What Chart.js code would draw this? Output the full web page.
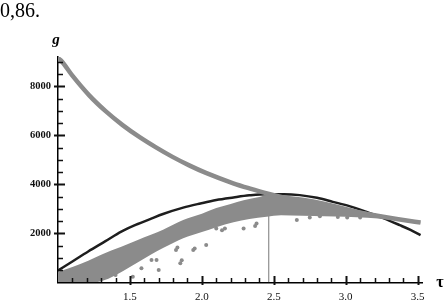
<!DOCTYPE html>
<html>
<head>
<meta charset="utf-8">
<script src="https://cdn.jsdelivr.net/npm/chart.js@4.4.1/dist/chart.umd.min.js"></script>
<style>
html,body{margin:0;padding:0;background:#fff;}
#wrap{position:relative;width:445px;height:300px;}
</style>
</head>
<body>
<div id="wrap"><canvas id="c" width="445" height="300"></canvas></div>
<script>
// ---- data ----
const xTicks = [1.5, 2.0, 2.5, 3.0, 3.5];
const yTicks = [2000, 4000, 6000, 8000];
const xMinorStep = 0.1;
const yMinorStep = 500;

// decreasing grey curve
const decTau = [1.00, 1.02, 1.10, 1.217, 1.333, 1.449, 1.565, 1.681, 1.796, 1.912, 2.028, 2.218, 2.33, 2.46, 2.68, 2.935, 3.10, 3.26, 3.40, 3.52];
const decG   = [9150, 9060, 8436, 7633, 6977, 6418, 5936, 5509, 5122, 4775, 4467, 4044, 3837, 3620, 3310, 3012, 2839, 2675, 2547, 2440];

// black fitted curve
const fitTau = [1.00, 1.10, 1.21, 1.33, 1.44, 1.55, 1.64, 1.73, 1.87, 1.99, 2.10, 2.22, 2.33, 2.45, 2.57, 2.68, 2.80, 2.91, 3.03, 3.14, 3.26, 3.375, 3.45, 3.52];
const fitG   = [480, 850, 1260, 1680, 2070, 2370, 2580, 2790, 3050, 3220, 3360, 3465, 3550, 3600, 3600, 3560, 3450, 3285, 3100, 2880, 2620, 2335, 2140, 1930];

// scatter cloud: upper and lower edges
const cloudUpTau = [1.00, 1.10, 1.21, 1.30, 1.44, 1.55, 1.65, 1.73, 1.87, 2.00, 2.10, 2.20, 2.29, 2.40, 2.47, 2.55, 2.70, 2.85, 3.00, 3.15, 3.30, 3.45, 3.52];
const cloudUpG   = [430, 620, 880, 1130, 1450, 1720, 1950, 2150, 2540, 2800, 3030, 3200, 3350, 3480, 3570, 3540, 3460, 3300, 3080, 2870, 2700, 2560, 2480];
const cloudLoTau = [1.00, 1.25, 1.35, 1.45, 1.55, 1.65, 1.73, 1.87, 2.00, 2.10, 2.22, 2.33, 2.45, 2.55, 2.70, 2.85, 3.00, 3.15, 3.30, 3.45, 3.52];
const cloudLoG   = [0, 0, 150, 450, 800, 1150, 1400, 1800, 2050, 2250, 2450, 2580, 2680, 2740, 2720, 2700, 2680, 2640, 2560, 2450, 2400];

// isolated points below the cloud
const outTau = [1.40, 1.48, 1.52, 1.58, 1.65, 1.685, 1.70, 1.82, 1.83, 1.85, 1.86, 1.94, 1.95, 2.03, 2.10, 2.14, 2.16, 2.29, 2.37, 2.38, 2.66, 2.75, 2.82, 2.945, 3.01, 3.10];
const outG   = [300, 700, 230, 570, 910, 910, 500, 1315, 1420, 775, 900, 1315, 1385, 1520, 2200, 2130, 2200, 2200, 2300, 2400, 2540, 2650, 2700, 2670, 2650, 2650];

// vertical marker
const markTau = 2.465;
const markG = [0, 3600];

const pts = (xs, ys) => xs.map((x, i) => ({x: x, y: ys[i]}));
const GREY = '#8b8b8b';

const tickPlugin = {
  id: 'axisMarks',
  afterDraw(chart) {
    const ctx = chart.ctx, xs = chart.scales.x, ys = chart.scales.y;
    const x0 = Math.round(xs.getPixelForValue(xs.min));
    const y0 = Math.round(ys.getPixelForValue(0));
    ctx.save();
    ctx.fillStyle = '#111';
    // x-axis ticks (minor up, major crossing)
    const nx = Math.round((3.5 - 1.0) / xMinorStep);
    for (let k = 1; k <= nx; k++) {
      const v = 1.0 + k * xMinorStep;
      const px = Math.round(xs.getPixelForValue(v));
      const major = xTicks.some(t => Math.abs(t - v) < 1e-6);
      if (major) ctx.fillRect(px - 0.5, y0 - 6, 2, 9);
      else ctx.fillRect(px - 0.25, y0 - 4, 1.5, 4);
    }
    // y-axis ticks
    for (let v = yMinorStep; v <= 9000; v += yMinorStep) {
      const py = Math.round(ys.getPixelForValue(v));
      const major = yTicks.indexOf(v) >= 0;
      if (major) ctx.fillRect(x0 - 4, py - 0.5, 11, 2);
      else ctx.fillRect(x0, py - 0.25, 5, 1.5);
    }
    ctx.fillStyle = '#000';
    ctx.font = 'bold italic 15px "Liberation Serif"';
    ctx.textAlign = 'center';
    ctx.textBaseline = 'middle';
    ctx.fillText('g', x0 - 2, chart.chartArea.top - 17);
    ctx.font = 'bold 16px "Liberation Serif"';
    ctx.fillText('τ', xs.right + 18, y0 + 1);
    ctx.font = '20px "Liberation Serif"';
    ctx.textAlign = 'left';
    ctx.textBaseline = 'alphabetic';
    ctx.fillText('0,86.', 0, 17);
    ctx.restore();
  }
};

new Chart(document.getElementById('c'), {
  type: 'scatter',
  data: {
    datasets: [
      {label: 'cloudLo', data: pts(cloudLoTau, cloudLoG), showLine: true, borderWidth: 0, borderColor: 'rgba(0,0,0,0)', pointRadius: 0, fill: false, cubicInterpolationMode: 'monotone'},
      {label: 'cloudUp', data: pts(cloudUpTau, cloudUpG), showLine: true, borderWidth: 0, borderColor: 'rgba(0,0,0,0)', pointRadius: 0, fill: '-1', backgroundColor: GREY, cubicInterpolationMode: 'monotone'},
      {label: 'out', data: pts(outTau, outG), pointRadius: 2, pointBackgroundColor: GREY, pointBorderWidth: 0, showLine: false},
      {label: 'dec', data: pts(decTau, decG), showLine: true, borderColor: GREY, borderWidth: 4.5, pointRadius: 0, cubicInterpolationMode: 'monotone', fill: false},
      {label: 'fit', data: pts(fitTau, fitG), showLine: true, borderColor: '#1e1e1e', borderWidth: 2.5, pointRadius: 0, cubicInterpolationMode: 'monotone', fill: false},
      {label: 'mark', data: markG.map(g => ({x: markTau, y: g})), showLine: true, borderColor: '#777', borderWidth: 1, pointRadius: 0, fill: false}
    ]
  },
  options: {
    responsive: false,
    animation: false,
    events: [],
    layout: {padding: {top: 57, right: 23, left: 0, bottom: 0}},
    plugins: {legend: {display: false}, tooltip: {enabled: false}},
    scales: {
      x: {
        type: 'linear', min: 1.0, max: 3.53,
        afterBuildTicks: s => { s.ticks = xTicks.map(v => ({value: v})); },
        afterFit: s => { s.height = 17.7; },
        grid: {display: false, drawTicks: false},
        border: {display: true, color: '#000', width: 1.5},
        ticks: {padding: 8, color: '#111', font: {family: '"Liberation Serif"', size: 11}, callback: v => v.toFixed(1)}
      },
      y: {
        type: 'linear', min: 0, max: 9200,
        afterBuildTicks: s => { s.ticks = yTicks.map(v => ({value: v})); },
        afterFit: s => { s.width = 58; },
        grid: {display: false, drawTicks: false},
        border: {display: true, color: '#000', width: 1.5},
        ticks: {padding: 7, color: '#111', font: {family: '"Liberation Serif"', size: 10.5, weight: 'bold'}, callback: v => String(v)}
      }
    }
  },
  plugins: [tickPlugin]
});
</script>
</body>
</html>
